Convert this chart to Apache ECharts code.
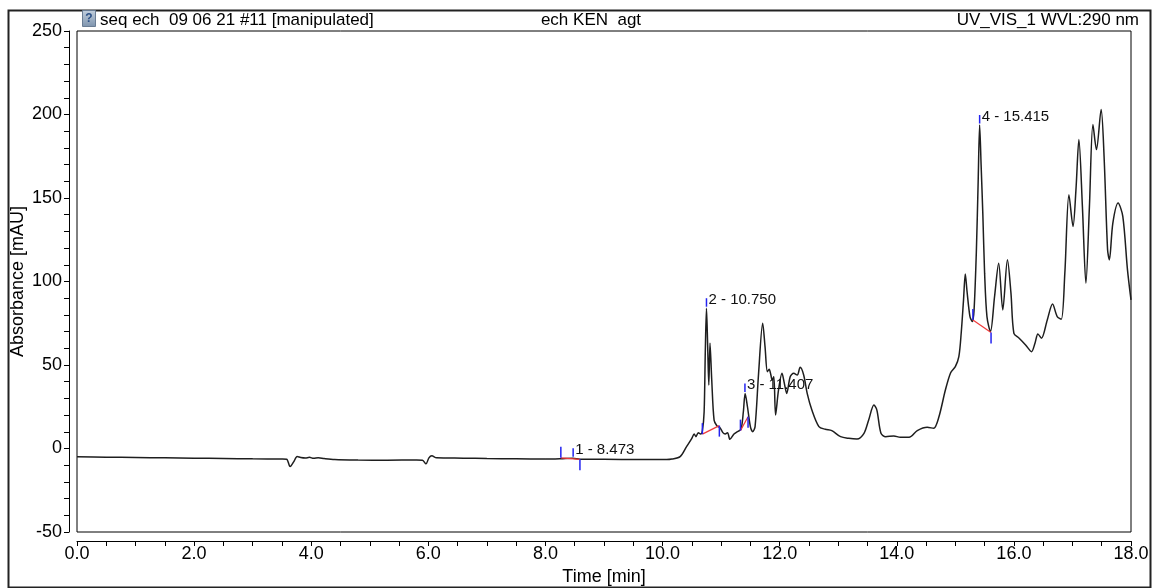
<!DOCTYPE html>
<html>
<head>
<meta charset="utf-8">
<script src="https://cdn.jsdelivr.net/npm/echarts@6/dist/echarts.min.js"></script>
<style>
  html, body { margin: 0; padding: 0; background: #ffffff; }
  #chart { width: 1152px; height: 588px; }
</style>
</head>
<body>
<div id="chart"></div>
<script>
// Retention time (min) of each sample of the UV trace
const times = [
  0.00, 0.50, 1.00, 1.50, 2.00, 2.50, 3.00, 3.50, 3.58, 3.64, 3.70, 3.76, 3.82, 3.90, 3.97,
  4.04, 4.12, 4.22, 4.40, 4.80, 5.30, 5.80, 5.90, 5.96, 6.01, 6.06, 6.14, 6.30, 6.60, 7.00,
  7.50, 8.00, 8.26, 8.47, 8.59, 9.00, 9.60, 10.07, 10.16, 10.30, 10.41, 10.50, 10.54, 10.57, 10.61,
  10.65, 10.68, 10.71, 10.73, 10.75, 10.77, 10.79, 10.81, 10.84, 10.88, 10.93, 10.98, 11.03, 11.07, 11.11,
  11.15, 11.22, 11.28, 11.34, 11.38, 11.41, 11.45, 11.50, 11.54, 11.58, 11.64, 11.71, 11.75, 11.79, 11.82,
  11.85, 11.87, 11.90, 11.93, 11.98, 12.04, 12.08, 12.12, 12.18, 12.24, 12.30, 12.35, 12.41, 12.47, 12.55,
  12.67, 12.78, 12.89, 13.04, 13.18, 13.32, 13.44, 13.52, 13.61, 13.66, 13.73, 13.81, 13.95, 14.06, 14.21,
  14.35, 14.52, 14.63, 14.72, 14.83, 14.92, 15.00, 15.06, 15.10, 15.14, 15.17, 15.20, 15.25, 15.29, 15.32,
  15.36, 15.39, 15.415, 15.44, 15.47, 15.50, 15.54, 15.60, 15.67, 15.74, 15.81, 15.89, 15.95, 16.00, 16.09,
  16.20, 16.30, 16.36, 16.41, 16.47, 16.57, 16.66, 16.74, 16.81, 16.87, 16.94, 17.01, 17.06, 17.11, 17.17,
  17.23, 17.29, 17.35, 17.41, 17.49, 17.54, 17.60, 17.63, 17.69, 17.78, 17.86, 17.94, 18.00
];

// Absorbance (mAU) at each retention time
const absorbance = [
  -5.0, -5.2, -5.4, -5.6, -5.8, -6.0, -6.2, -6.3, -6.4, -10.8, -8.0, -4.8, -5.4, -5.7, -5.3,
  -5.9, -5.5, -6.0, -6.6, -6.9, -7.0, -6.9, -7.0, -9.2, -5.6, -4.4, -5.6, -5.7, -5.8, -6.0,
  -6.2, -6.3, -6.1, -5.8, -6.4, -6.5, -6.6, -6.6, -6.3, -4.9, 1.1, 6.1, 8.7, 7.1, 9.5,
  8.7, 10.6, 22, 58, 84, 62, 38, 63, 41, 17, 13.5, 12.5, 9.5, 8.7, 9.5,
  5.5, 8.7, 10.1, 11.5, 22, 33, 25, 13.1, 10.1, 13.1, 45, 75, 61, 46, 47.4,
  44, 41, 43, 20, 35, 45, 39, 33, 43, 45, 44, 48.6, 44, 33, 23,
  13.1, 11.5, 10.7, 7.1, 6.1, 5.7, 9.1, 17.1, 26, 23, 9.1, 7.1, 7.5, 6.7, 6.7,
  10.7, 12.7, 12.1, 19, 35, 45.4, 49, 55, 69, 89, 104.5, 94, 79, 76, 83,
  119, 160, 193.7, 170, 140, 105, 79, 70, 91, 111, 83, 113, 93, 69, 66,
  62, 58, 63, 68.6, 66, 77, 86.5, 79, 77.4, 105, 152, 133, 155, 185, 145,
  99, 145, 194, 179, 203, 175, 119, 113, 135, 147, 139, 107, 89
];

// Integrated peaks: name, apex, and baseline start / end points
const peakLabels = ['1 - 8.473', '2 - 10.750', '3 - 11.407', '4 - 15.415'];
const peakTimes = [8.473, 10.750, 11.407, 15.415];
const peakApex = [-5.8, 84, 33, 193.7];
const peakStartTimes = [8.263, 10.680, 11.330, 15.300];
const peakStartValues = [-5.6, 8.6, 10.7, 77];
const peakEndTimes = [8.589, 10.970, 11.460, 15.610];
const peakEndValues = [-6.5, 13.7, 19.0, 69.5];

// Header captions
const headerLeft = 'seq ech  09 06 21 #11 [manipulated]';
const headerCenter = 'ech KEN  agt';
const headerRight = 'UV_VIS_1 WVL:290 nm';

const SANS = "'Liberation Sans', Arial, sans-serif";
const NARROW = "'Liberation Sans Narrow', 'Arial Narrow', 'Liberation Sans', Arial, sans-serif";
const MARK_BLUE = '#2323f0';
const BASE_RED = '#f03a3a';

const traceData = times.map((t, i) => [t, absorbance[i]]);
const apexData = peakTimes.map((t, i) => [t, peakApex[i]]);
const baselineData = peakStartTimes.map((t, i) =>
  [t, peakStartValues[i], peakEndTimes[i], peakEndValues[i]]);

const chart = echarts.init(document.getElementById('chart'), null, { renderer: 'canvas' });

const option = {
  animation: false,
  backgroundColor: '#ffffff',
  grid: {
    left: 77, top: 31, width: 1054, height: 501,
    containLabel: false, outerBoundsMode: 'none',
    show: true, borderColor: '#000000', borderWidth: 1, backgroundColor: 'transparent'
  },
  xAxis: {
    type: 'value', min: 0, max: 18, interval: 2, offset: 9,
    axisLine: { show: true, onZero: false, lineStyle: { color: '#000000', width: 1 } },
    axisTick: { show: true, length: 5, lineStyle: { color: '#000000' } },
    minorTick: { show: true, splitNumber: 4, length: 5, lineStyle: { color: '#000000' } },
    splitLine: { show: false }, minorSplitLine: { show: false },
    axisLabel: {
      formatter: v => v.toFixed(1), color: '#000000',
      fontFamily: NARROW, fontSize: 18, margin: 4
    },
    name: 'Time [min]', nameLocation: 'middle', nameGap: 24,
    nameTextStyle: { color: '#000000', fontFamily: NARROW, fontSize: 18 }
  },
  yAxis: {
    type: 'value', min: -50, max: 250, interval: 50, offset: 8,
    axisLine: { show: true, onZero: false, lineStyle: { color: '#000000', width: 1 } },
    axisTick: { show: true, length: 5, lineStyle: { color: '#000000' } },
    minorTick: { show: true, splitNumber: 5, length: 5, lineStyle: { color: '#000000' } },
    splitLine: { show: false }, minorSplitLine: { show: false },
    axisLabel: { color: '#000000', fontFamily: SANS, fontSize: 18, margin: 7 },
    name: 'Absorbance [mAU]', nameLocation: 'middle', nameGap: 42, nameMoveOverlap: false,
    nameTextStyle: { color: '#000000', fontFamily: NARROW, fontSize: 18 }
  },
  series: [
    {
      type: 'line', data: traceData, showSymbol: false, smooth: 0.3,
      lineStyle: { color: '#1e1e1e', width: 1.5 }, silent: true, z: 2
    },
    {
      // integration baselines with start (up) and end (down) delimiters
      type: 'custom', data: baselineData, z: 3, silent: true,
      renderItem: (params, api) => {
        const a = api.coord([api.value(0), api.value(1)]);
        const b = api.coord([api.value(2), api.value(3)]);
        return {
          type: 'group',
          children: [
            { type: 'line', shape: { x1: a[0], y1: a[1], x2: b[0], y2: b[1] },
              style: { stroke: BASE_RED, lineWidth: 1.2 } },
            { type: 'line', shape: { x1: a[0], y1: a[1], x2: a[0], y2: a[1] - 11 },
              style: { stroke: MARK_BLUE, lineWidth: 1.5 } },
            { type: 'line', shape: { x1: b[0], y1: b[1], x2: b[0], y2: b[1] + 11 },
              style: { stroke: MARK_BLUE, lineWidth: 1.5 } }
          ]
        };
      }
    },
    {
      // apex markers with peak names
      type: 'custom', data: apexData, z: 4, silent: true,
      renderItem: (params, api) => {
        const p = api.coord([api.value(0), api.value(1)]);
        return {
          type: 'group',
          children: [
            { type: 'line', shape: { x1: p[0], y1: p[1] - 1.5, x2: p[0], y2: p[1] - 10 },
              style: { stroke: MARK_BLUE, lineWidth: 1.5 } },
            { type: 'text', x: p[0] + 2, y: p[1] - 8.5,
              style: { text: peakLabels[params.dataIndex], fill: '#111111',
                       fontFamily: SANS, fontSize: 15, align: 'left', verticalAlign: 'middle' } }
          ]
        };
      }
    }
  ],
  graphic: [
    { type: 'rect', left: 6, top: 8, silent: true,
      shape: { width: 1142, height: 577 },
      style: { fill: 'none', stroke: '#222222', lineWidth: 2 } },
    { type: 'group', left: 82, top: 10, silent: true, children: [
      { type: 'rect', shape: { width: 13, height: 16 },
        style: { fill: new echarts.graphic.LinearGradient(0, 0, 0, 1, [
          { offset: 0, color: '#c3d0de' }, { offset: 1, color: '#7d93ad' }]),
          stroke: '#6a7d94', lineWidth: 1 } },
      { type: 'text', x: 6.5, y: 8,
        style: { text: '?', fill: '#2a4f86', fontFamily: SANS, fontSize: 12, fontWeight: 'bold',
                 align: 'center', verticalAlign: 'middle' } }
    ] },
    { type: 'text', x: 100, y: 20, silent: true,
      style: { text: headerLeft, fill: '#000000', fontFamily: SANS, fontSize: 17,
               align: 'left', verticalAlign: 'middle' } },
    { type: 'text', x: 591, y: 20, silent: true,
      style: { text: headerCenter, fill: '#000000', fontFamily: NARROW, fontSize: 17,
               align: 'center', verticalAlign: 'middle' } },
    { type: 'text', x: 1139, y: 20, silent: true,
      style: { text: headerRight, fill: '#000000', fontFamily: NARROW, fontSize: 17,
               align: 'right', verticalAlign: 'middle' } }
  ]
};

chart.setOption(option);
</script>
</body>
</html>
